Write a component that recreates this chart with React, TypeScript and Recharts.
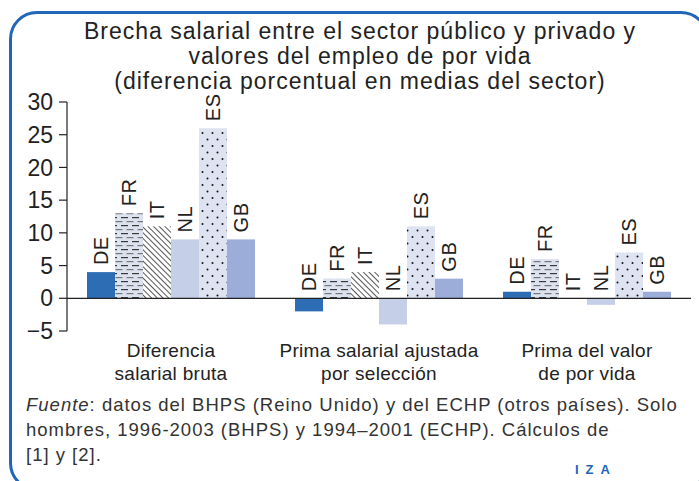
import { BarChart, Bar, XAxis, YAxis, ReferenceLine } from 'recharts';

const categories = [
  ['Diferencia', 'salarial bruta'],
  ['Prima salarial ajustada', 'por selección'],
  ['Prima del valor', 'de por vida'],
];
const countries = ['DE', 'FR', 'IT', 'NL', 'ES', 'GB'];
const DE = [4, -2, 1];
const FR = [13, 3, 6];
const IT = [11, 4, 0];
const NL = [9, -4, -1];
const ES = [26, 11, 7];
const GB = [9, 3, 1];
const yTicks = [-5, 0, 5, 10, 15, 20, 25, 30];

const series: Record<string, number[]> = { DE, FR, IT, NL, ES, GB };
const fills: Record<string, string> = {
  DE: '#2c6db4',
  FR: 'url(#pDash)',
  IT: 'url(#pHatch)',
  NL: '#c5cfe7',
  ES: 'url(#pDots)',
  GB: '#9badd8',
};

const data = categories.map((c, i) => {
  const row: Record<string, any> = { name: c.join('\n') };
  countries.forEach((k) => (row[k] = series[k][i]));
  return row;
});

const font = '"Liberation Sans", Arial, sans-serif';

function BarWithLabel(props: any) {
  const { x, y, width, height, fill, code } = props;
  const top = Math.min(y, y + height);
  const h = Math.abs(height);
  const cx = x + width / 2;
  const ly = top - 7;
  return (
    <g>
      {h > 0 && <rect x={x} y={top} width={width} height={h} fill={fill} />}
      <text
        x={cx}
        y={ly}
        transform={`rotate(-90 ${cx} ${ly})`}
        textAnchor="start"
        dominantBaseline="central"
        fontSize={20}
        fontFamily={font}
        letterSpacing={0.5}
        fill="#222"
      >
        {code}
      </text>
    </g>
  );
}

function CatTick(props: any) {
  const { x, y, payload } = props;
  const lines = String(payload.value).split('\n');
  return (
    <text
      x={x}
      y={y}
      textAnchor="middle"
      fontSize={19}
      fontFamily={font}
      letterSpacing={0.3}
      fill="#222"
    >
      {lines.map((l, i) => (
        <tspan key={i} x={x} dy={i === 0 ? 18 : 23}>
          {l}
        </tspan>
      ))}
    </text>
  );
}

export default function App() {
  return (
    <div
      style={{
        position: 'absolute',
        left: 0,
        top: 0,
        width: 699,
        height: 481,
        overflow: 'hidden',
        background: '#fff',
        fontFamily: font,
      }}
    >
      <svg width={0} height={0} style={{ position: 'absolute' }}>
        <defs>
          <pattern id="pDash" width={11} height={8} patternUnits="userSpaceOnUse">
            <rect width={11} height={8} fill="#dce2f0" />
            <rect x={0} y={1} width={7} height={1.2} fill="#3a3a3a" />
            <rect x={5.5} y={5} width={7} height={1.2} fill="#777" />
            <rect x={-5.5} y={5} width={7} height={1.2} fill="#777" />
          </pattern>
          <pattern
            id="pHatch"
            width={4}
            height={4}
            patternUnits="userSpaceOnUse"
            patternTransform="rotate(-45)"
          >
            <rect width={4} height={4} fill="#fff" />
            <line x1={0} y1={0} x2={0} y2={4} stroke="#2a2a2a" strokeWidth={1.6} />
          </pattern>
          <pattern id="pDots" width={10} height={13} patternUnits="userSpaceOnUse">
            <rect width={10} height={13} fill="#dde3f1" />
            <circle cx={2.5} cy={3} r={1} fill="#111" />
            <circle cx={7.5} cy={9.5} r={1} fill="#111" />
          </pattern>
        </defs>
      </svg>

      <div
        style={{
          position: 'absolute',
          left: 9,
          top: 11,
          width: 700,
          height: 480,
          border: '3px solid #2166b8',
          borderRadius: 28,
          boxSizing: 'border-box',
        }}
      />

      <div
        style={{
          position: 'absolute',
          left: 10,
          top: 19,
          width: 700,
          textAlign: 'center',
          fontSize: 23,
          lineHeight: '25px',
          letterSpacing: 1,
          color: '#222',
        }}
      >
        Brecha salarial entre el sector público y privado y
        <br />
        valores del empleo de por vida
        <br />
        (diferencia porcentual en medias del sector)
      </div>

      <div style={{ position: 'absolute', left: 0, top: 0 }}>
        <BarChart
          width={699}
          height={392}
          data={data}
          margin={{ top: 102, right: 8, bottom: 0, left: 0 }}
          barCategoryGap={20}
          barGap={0}
        >
          <YAxis
            width={67}
            domain={[-5, 30]}
            ticks={yTicks}
            interval={0}
            axisLine={{ stroke: '#222', strokeWidth: 1.2 }}
            tickLine={{ stroke: '#222', strokeWidth: 1.2 }}
            tickSize={8}
            tickMargin={6}
            tickFormatter={(v: number) => (v < 0 ? `\u2212${-v}` : String(v))}
            tick={{ fontSize: 23, fill: '#222', fontFamily: font }}
          />
          <XAxis
            dataKey="name"
            height={61}
            axisLine={false}
            tickLine={false}
            interval={0}
            tick={<CatTick />}
          />
          <ReferenceLine y={0} stroke="#222" strokeWidth={1.2} />
          {countries.map((k) => (
            <Bar
              key={k}
              dataKey={k}
              fill={fills[k]}
              isAnimationActive={false}
              shape={(p: any) => <BarWithLabel {...p} code={k} />}
            />
          ))}
        </BarChart>
      </div>

      <div
        style={{
          position: 'absolute',
          left: 26,
          top: 392,
          width: 680,
          fontSize: 18.5,
          lineHeight: '25px',
          letterSpacing: 1,
          color: '#333',
        }}
      >
        <i>Fuente</i>: datos del BHPS (Reino Unido) y del ECHP (otros países). Solo
        <br />
        hombres, 1996-2003 (BHPS) y 1994–2001 (ECHP). Cálculos de
        <br />
        [1] y [2].
      </div>

      <div
        style={{
          position: 'absolute',
          left: 575,
          top: 462,
          fontSize: 13,
          fontWeight: 'bold',
          letterSpacing: 7,
          color: '#2166b8',
        }}
      >
        IZA
      </div>
    </div>
  );
}
